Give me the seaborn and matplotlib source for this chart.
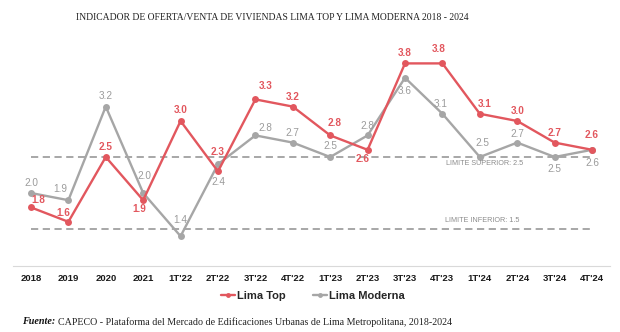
import matplotlib
matplotlib.use("Agg")
import matplotlib.pyplot as plt
from matplotlib.lines import Line2D
import seaborn as sns
import pandas as pd

# Periods on the x axis
periodos = ["2018", "2019", "2020", "2021", "1T'22", "2T'22", "3T'22", "4T'22",
            "1T'23", "2T'23", "3T'23", "4T'23", "1T'24", "2T'24", "3T'24", "4T'24"]

# Offer/sales indicator per zone
lima_top = [1.8, 1.6, 2.5, 1.9, 3.0, 2.3, 3.3, 3.2, 2.8, 2.6, 3.8, 3.8, 3.1, 3.0, 2.7, 2.6]
lima_moderna = [2.0, 1.9, 3.2, 2.0, 1.4, 2.4, 2.8, 2.7, 2.5, 2.8, 3.6, 3.1, 2.5, 2.7, 2.5, 2.6]

# Reference limits
limite_superior = 2.5
limite_inferior = 1.5

series = ["Lima Top", "Lima Moderna"]
ROJO = "#e2575e"
GRIS = "#a6a6a6"
GRIS_TXT = "#9b9b9b"

df = pd.DataFrame({
    "x": list(range(len(periodos))) * 2,
    "valor": lima_top + lima_moderna,
    "serie": [series[0]] * len(periodos) + [series[1]] * len(periodos),
})

sns.set_style("white")
plt.rcParams["font.family"] = ["Liberation Sans", "DejaVu Sans"]

W, H = 620, 332
fig = plt.figure(figsize=(W / 100, H / 100), dpi=100)
ax = fig.add_axes([13 / W, (H - 266) / H, 597 / W, 226 / H])

sns.lineplot(data=df, x="x", y="valor", hue="serie", hue_order=series[::-1],
             palette={series[0]: ROJO, series[1]: GRIS},
             marker="o", markersize=5, markeredgewidth=0, linewidth=1.7,
             legend=False, ax=ax, zorder=3)

ax.set_xlim(-0.48, 15.48)
ax.set_ylim(0.986, 4.125)

# Limit lines
for lim in (limite_superior, limite_inferior):
    ax.plot([0, len(periodos) - 1], [lim, lim], color="#a0a0a0", lw=1.3,
            dashes=(4, 2.5), zorder=2)
ax.annotate(f"LIMITE SUPERIOR: {limite_superior}", xy=(13.15, limite_superior),
            xytext=(0, -4.5), textcoords="offset points", ha="right", va="center",
            fontsize=5.2, color="#8c8c8c")
ax.annotate(f"LIMITE INFERIOR: {limite_inferior}", xy=(13.05, limite_inferior),
            xytext=(0, 6), textcoords="offset points", ha="right", va="center",
            fontsize=5.2, color="#8c8c8c")

# Value labels (offsets in pixels: dx, dy)
off_top = [(7, 7), (-5, 9), (0, 10), (-4, -9), (0, 11), (0, 19), (10, 13), (0, 10),
           (4, 12), (-5, -9), (0, 10), (-4, 14), (5, 10), (0, 10), (0, 10), (0, 15)]
off_mod = [(0, 10), (-8, 11), (0, 11), (1, 17), (0, 16), (0, -18), (10, 7), (0, 10),
           (0, 11), (0, 9), (0, -13), (-2, 10), (3, 14), (0, 9), (0, -12), (0, -13)]
for i, (v, (dx, dy)) in enumerate(zip(lima_top, off_top)):
    ax.annotate(f"{v:.1f}", xy=(i, v), xytext=(dx * 0.72, dy * 0.72),
                textcoords="offset points", ha="center", va="center",
                fontsize=7.2, fontweight="bold", color=ROJO, zorder=5)
for i, (v, (dx, dy)) in enumerate(zip(lima_moderna, off_mod)):
    ax.annotate(f"{v:.1f}", xy=(i, v), xytext=(dx * 0.72, dy * 0.72),
                textcoords="offset points", ha="center", va="center",
                fontsize=7.2, color=GRIS_TXT, zorder=5)

# Axes styling
for s in ("top", "right", "left"):
    ax.spines[s].set_visible(False)
ax.spines["bottom"].set_color("#d9d9d9")
ax.spines["bottom"].set_linewidth(0.8)
ax.set_xticks(range(len(periodos)))
ax.set_xticklabels(periodos, fontsize=6.8, fontweight="bold", color="#1a1a1a")
ax.tick_params(axis="x", length=0, pad=5.5)
ax.set_yticks([])
ax.set_xlabel("")
ax.set_ylabel("")

# Legend
handles = [Line2D([], [], color=ROJO, marker="o", markersize=3.5, lw=1.7, markeredgewidth=0),
           Line2D([], [], color=GRIS, marker="o", markersize=3.5, lw=1.7, markeredgewidth=0)]
fig.legend(handles, series, loc="center", bbox_to_anchor=(313 / W, 1 - 296 / H),
           ncol=2, frameon=False, handlelength=1.3, handletextpad=0.2,
           columnspacing=2.4, prop={"size": 8, "weight": "bold"})

# Title
fig.text(272 / W, 1 - 18 / H,
         "INDICADOR DE OFERTA/VENTA DE VIVIENDAS LIMA TOP Y LIMA MODERNA 2018 - 2024",
         ha="center", va="center", fontsize=6.9, family=["Liberation Serif", "DejaVu Serif"],
         color="#222222")

# Source
y_src = 1 - 322 / H
t = fig.text(22 / W, y_src, "Fuente:", ha="left", va="center", fontsize=7.3,
             family=["Liberation Serif", "DejaVu Serif"], fontweight="bold",
             style="italic", color="#111111")
fig.canvas.draw()
bb = t.get_window_extent()
fig.text((bb.x1 + 3) / W, y_src,
         "CAPECO - Plataforma del Mercado de Edificaciones Urbanas de Lima Metropolitana, 2018-2024",
         ha="left", va="center", fontsize=7.2, family=["Liberation Serif", "DejaVu Serif"],
         color="#222222")

fig.savefig("out.png", dpi=100)
